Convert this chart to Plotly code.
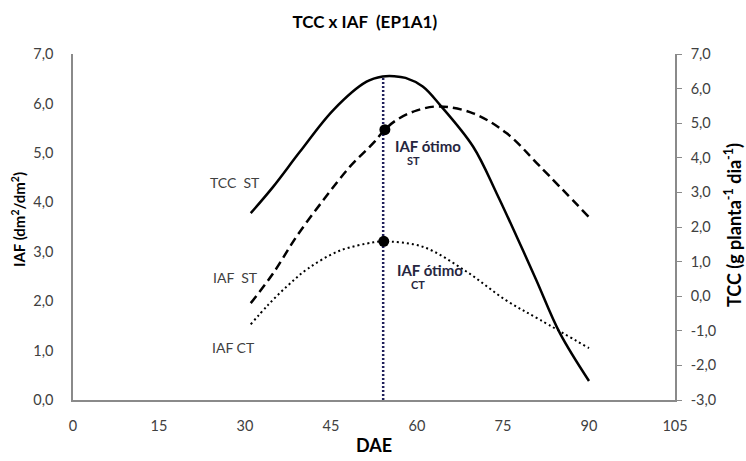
import plotly.graph_objects as go

# ---- data ----
dae_tcc_st = [31, 34.9, 39.6, 45.4, 51.2, 54, 56, 58, 61, 64, 69.8, 73.9, 77.4, 80.8, 84.9, 90]
tcc_st = [2.40, 3.16, 4.18, 5.38, 6.20, 6.35, 6.36, 6.31, 6.06, 5.53, 4.32, 2.97, 1.72, 0.47, -1.06, -2.45]

dae_iaf_st = [31, 34.9, 39.0, 43.7, 48.3, 52.4, 54.4, 56.5, 60, 64, 69.8, 75.6, 81.5, 90]
iaf_st = [1.96, 2.56, 3.31, 4.05, 4.72, 5.20, 5.47, 5.67, 5.86, 5.94, 5.80, 5.40, 4.72, 3.70]

dae_iaf_ct = [31, 34, 37.5, 41, 46.5, 52.4, 54.1, 61, 68.6, 75.5, 81.5, 90]
iaf_ct = [1.53, 1.92, 2.32, 2.66, 3.02, 3.19, 3.21, 3.10, 2.60, 2.02, 1.62, 1.05]

dae_otimo = [54.4, 54.2]
iaf_otimo = [5.47, 3.21]
otimo_line_x = [54.1, 54.1]
otimo_line_y = [0, 6.54]

x_ticks = [0, 15, 30, 45, 60, 75, 90, 105]
y_left_ticks = [0, 1, 2, 3, 4, 5, 6, 7]
y_right_ticks = [-3, -2, -1, 0, 1, 2, 3, 4, 5, 6, 7]

def fmt(v):
    return f"{v:.1f}".replace(".", ",")

FONT = "Lato, 'Open Sans', sans-serif"
TICKCOL = "#404040"
AXCOL = "#8a8a8a"
NAVY = "#262640"

fig = go.Figure()
fig.add_trace(go.Scatter(x=otimo_line_x, y=otimo_line_y, mode="lines",
                         line=dict(color="#1f1f5a", width=2.5, dash="2px,2px"), showlegend=False))
fig.add_trace(go.Scatter(x=dae_iaf_st, y=iaf_st, mode="lines", line_shape="spline",
                         line=dict(color="black", width=2.5, dash="9px,5px"), showlegend=False))
fig.add_trace(go.Scatter(x=dae_iaf_ct, y=iaf_ct, mode="lines", line_shape="spline",
                         line=dict(color="black", width=2, dash="2px,3px"), showlegend=False))
fig.add_trace(go.Scatter(x=dae_tcc_st, y=tcc_st, mode="lines", line_shape="spline", yaxis="y2",
                         line=dict(color="black", width=2.5), showlegend=False))
fig.add_trace(go.Scatter(x=dae_otimo, y=iaf_otimo, mode="markers",
                         marker=dict(color="black", size=11), showlegend=False))

ann = []
def add(x, y, text, size=14, color=TICKCOL, bold=False):
    t = f"<b>{text}</b>" if bold else text
    ann.append(dict(x=x, y=y, xref="x", yref="y", text=t, showarrow=False,
                    font=dict(family=FONT, size=size, color=color)))

add(28.3, 4.41, "TCC  ST")
add(28.3, 2.47, "IAF  ST")
add(28.0, 1.07, "IAF CT")
add(61.9, 5.13, "IAF ótimo", size=15, color=NAVY, bold=True)
add(59.4, 4.84, "ST", size=11, color=NAVY, bold=True)
add(62.2, 2.64, "IAF ótimo", size=15, color=NAVY, bold=True)
add(60.2, 2.33, "CT", size=11, color=NAVY, bold=True)

# axis titles
ann.append(dict(x=0, y=0.5, xref="paper", yref="paper", xshift=-55, yshift=7, xanchor="center", yanchor="middle",
                text="<b>IAF (dm<sup>2</sup>/dm<sup>2</sup>)</b>",
                textangle=-90, showarrow=False, font=dict(family=FONT, size=15, color="black")))
ann.append(dict(x=1, y=0.5, xref="paper", yref="paper", xshift=58, yshift=2, xanchor="center", yanchor="middle",
                text="<b>TCC (g planta<sup>-1</sup> dia<sup>-1</sup>)</b>",
                textangle=-90, showarrow=False, font=dict(family=FONT, size=18, color="black")))

fig.update_layout(
    width=746, height=461,
    margin=dict(l=73, r=71, t=54, b=61),
    paper_bgcolor="white", plot_bgcolor="white",
    title=dict(text="<b>TCC x IAF  (EP1A1)</b>", x=0.489, xanchor="center", y=0.952, yanchor="middle",
               font=dict(family=FONT, size=17, color="black")),
    xaxis=dict(range=[0, 105], tickvals=x_ticks, ticktext=[str(v) for v in x_ticks],
               showgrid=False, zeroline=False, showline=True, linecolor=AXCOL, linewidth=1.5,
               ticks="", tickfont=dict(family=FONT, size=14.5, color=TICKCOL), ticklabelstandoff=12,
               automargin=False,
               title=dict(text="<b>DAE</b>", font=dict(family=FONT, size=18, color="black"), standoff=6)),
    yaxis=dict(range=[0, 7], tickvals=y_left_ticks, ticktext=[fmt(v) for v in y_left_ticks],
               showgrid=False, zeroline=False, showline=True, linecolor=AXCOL, linewidth=1.5,
               automargin=False,
               ticks="", tickfont=dict(family=FONT, size=14.5, color=TICKCOL), ticklabelstandoff=15),
    yaxis2=dict(range=[-3, 7], overlaying="y", side="right", tickvals=y_right_ticks,
                ticktext=[fmt(v) for v in y_right_ticks], automargin=False,
                showgrid=False, zeroline=False, showline=True, linecolor=AXCOL, linewidth=1.5,
                ticks="outside", ticklen=5, tickcolor=AXCOL, tickfont=dict(family=FONT, size=14.5, color=TICKCOL),
                ticklabelstandoff=6),
    annotations=ann,
)

fig.write_html("out.html", config={"displayModeBar": False},
               post_script="document.body.style.margin='0';document.body.style.padding='0';")
